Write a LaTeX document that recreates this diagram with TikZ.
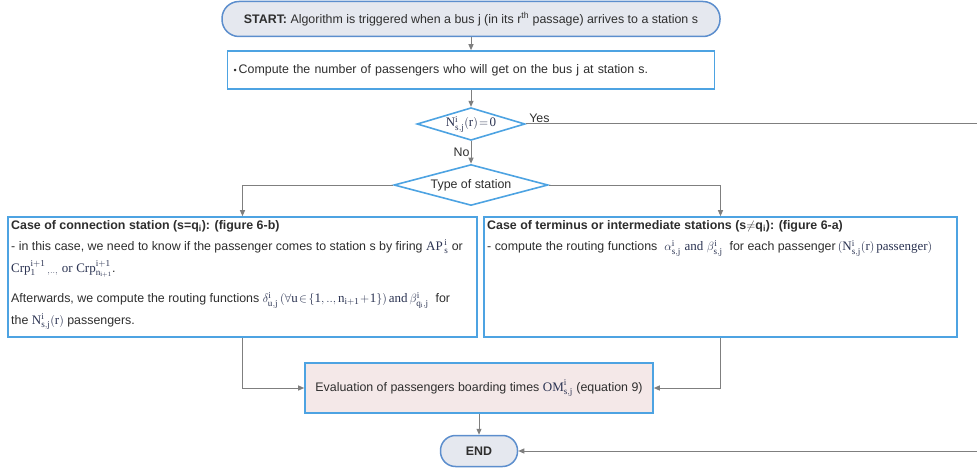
\documentclass[tikz,border=0pt]{standalone}
\usepackage{amsmath}
\usepackage{fontspec}
\setmainfont{Liberation Serif}
\setsansfont{Liberation Sans}
\setmathrm{Liberation Serif}
\usepackage{tikz}
\usetikzlibrary{shapes.geometric,arrows.meta}

\definecolor{boxblue}{HTML}{4DA3E2}
\definecolor{termblue}{HTML}{5C8ECD}
\definecolor{termfill}{HTML}{E5E8EF}
\definecolor{evalfill}{HTML}{F4E8E8}
\definecolor{linegray}{HTML}{7F7F7F}
\definecolor{txtgray}{HTML}{2E2E2E}
\definecolor{eqcol}{HTML}{2B3352}

\newcommand{\eqN}{\mathrm{N}^{\mathrm{i}}_{\mathrm{s,j}}(\mathrm{r})}
\newcommand{\eqc}[1]{{\color{eqcol}\fontsize{13}{14}\selectfont\thickmuskip=2mu\medmuskip=1mu$#1$}}

\tikzset{
  term/.style={draw=termblue, line width=1.5pt, fill=termfill, inner sep=0pt},
  proc/.style={draw=boxblue, line width=1.6pt, fill=white, inner sep=0pt},
  dec/.style={draw=boxblue, line width=1.6pt, fill=white, diamond, inner sep=0pt, shape aspect=3},
  txt/.style={inner sep=0pt, align=left, font=\sffamily\fontsize{12.4}{21.5}\selectfont},
  flow/.style={draw=linegray, line width=1pt, -{Triangle[length=6pt,width=5pt]}},
  lbl/.style={inner sep=1pt, text=txtgray}
}

\begin{document}
\begin{tikzpicture}[x=1pt, y=-1pt, text=txtgray, font=\sffamily\fontsize{12.4}{14.5}\selectfont]
\useasboundingbox (0,0) rectangle (977,468);

% boxes
\node[term, minimum width=498, minimum height=35, rounded corners=17] (start) at (471,19)
  {\textbf{START:} Algorithm is triggered when a bus j (in its r\textsuperscript{th} passage) arrives to a station s};
\node[proc, minimum width=487, minimum height=38, text width=475, align=left] (count) at (471,70)
  {{\small\textbullet}\,Compute the number of passengers who will get on the bus j at station s.};
\node[dec, minimum width=108, minimum height=32] (empty) at (471,124) {\eqc{\eqN=\mathrm{0}}};
\node[dec, minimum width=154, minimum height=41] (type) at (471,185) {Type of station};

\node[proc, minimum width=469, minimum height=120] (conn) at (242.5,277) {};
\node[txt, anchor=north west] (conntxt) at (11,220)
  {\textbf{Case of connection station (s=q\textsubscript{i}): (figure 6-b)}\\
   - in this case, we need to know if the passenger comes to station s by firing \eqc{\mathrm{AP}^{\,\mathrm{i}}_{\,\mathrm{s}}} or\\
   \eqc{\mathrm{Crp}^{\mathrm{i+1}}_{\mathrm{1}}\,_{,..,}\ \mathrm{or}\ \mathrm{Crp}^{\mathrm{i+1}}_{\mathrm{n}_{\mathrm{i+1}}}}.\\[9pt]
   Afterwards, we compute the routing functions \eqc{\delta^{\mathrm{i}}_{\mathrm{u,j}}\,(\forall\mathrm{u}\in\{\mathrm{1},..,\mathrm{n}_{\mathrm{i+1}}+\mathrm{1}\})\,\mathrm{and}\,\beta^{\mathrm{i}}_{\mathrm{q_i,j}}}\ \ for\\
   the \eqc{\eqN} passengers.};

\node[proc, minimum width=473, minimum height=120] (term) at (720.5,277) {};
\node[txt, anchor=north west] (termtxt) at (487,220)
  {\textbf{Case of terminus or intermediate stations (s$\neq$q\textsubscript{i}): (figure 6-a)}\\
   - compute the routing functions \ \eqc{\alpha^{\mathrm{i}}_{\mathrm{s,j}}\ \mathrm{and}\ \beta^{\mathrm{i}}_{\mathrm{s,j}}}\ \ for each passenger\,\eqc{(\eqN\,\mathrm{passenger})}};

\node[proc, fill=evalfill, minimum width=348, minimum height=50] (eval) at (479,388)
  {Evaluation of passengers boarding times \eqc{\mathrm{OM}^{\mathrm{i}}_{\mathrm{s,j}}} (equation 9)};
\node[term, minimum width=77, minimum height=31, rounded corners=15] (end) at (479,451) {\textbf{END}};

% connectors
\coordinate (yesa) at (979,124);
\coordinate (yesb) at (979,451);
\draw[flow] (start.south) -- (count.north);
\draw[flow] (count.south) -- (empty.north);
\draw[flow] (empty.south) -- node[lbl, left] {No} (type.north);
\draw[flow] (empty.east) -- node[lbl, above, pos=0.03] {Yes} (yesa) -- (yesb) -- (end.east);
\draw[flow] (type.west) -| (conn.north);
\draw[flow] (type.east) -| (term.north);
\draw[flow] (conn.south) |- (eval.west);
\draw[flow] (term.south) |- (eval.east);
\draw[flow] (eval.south) -- (end.north);
\end{tikzpicture}
\end{document}
